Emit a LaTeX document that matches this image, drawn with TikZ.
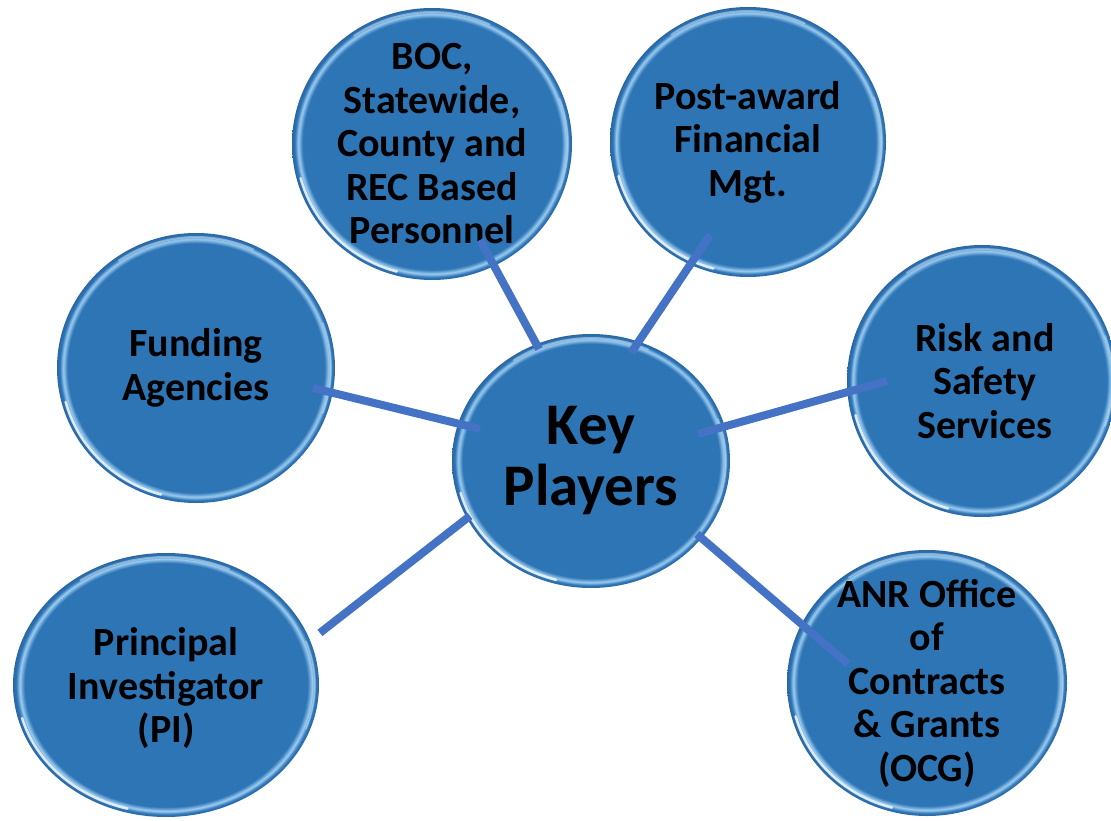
\documentclass[tikz,border=0pt]{standalone}
\usepackage{fontspec}
\setmainfont{Carlito}
\usetikzlibrary{shapes.geometric,calc}
\definecolor{bfill}{HTML}{2E75B6}
\definecolor{brim}{HTML}{9CCDF1}
\definecolor{bedge}{HTML}{2A66A2}
\definecolor{conncol}{HTML}{4472C4}
\pgfdeclareradialshading{bubble}{\pgfpoint{0bp}{0bp}}{color(0bp)=(bfill); color(23.1bp)=(bfill); color(23.9bp)=(brim); color(24.5bp)=(bfill); color(25bp)=(bedge); color(50bp)=(bedge)}
\tikzset{
  bub/.style={ellipse, shading=bubble, inner sep=0pt, outer sep=0pt, draw=none},
  txt/.style={align=center, font=\bfseries\fontsize{40}{43.5}\selectfont, text=black, inner sep=0pt},
  bigtxt/.style={align=center, font=\bfseries\fontsize{59}{61}\selectfont, text=black, inner sep=0pt},
  hl/.style={draw=white, line width=2.5pt, line cap=round},
  conn/.style={draw=conncol, line width=8pt}
}
\begin{document}
\begin{tikzpicture}[x=1pt,y=-1pt]
\useasboundingbox (0,0) rectangle (1111,821);
% bubbles
\node[bub, minimum width=278pt, minimum height=254pt] (key)  at (591,461) {};
\node[bub, minimum width=280pt, minimum height=272pt] (boc)  at (432,144) {};
\node[bub, minimum width=276pt, minimum height=270pt] (post) at (748,142) {};
\node[bub, minimum width=278pt, minimum height=270pt] (fund) at (196,368) {};
\node[bub, minimum width=270pt, minimum height=272pt] (risk) at (982,381) {};
\node[bub, minimum width=306pt, minimum height=264pt] (pi)   at (166,685) {};
\node[bub, minimum width=280pt, minimum height=266pt] (anr)  at (927,683) {};
% rim highlights
\foreach \n/\rx/\ry in {key/139/127, boc/140/136, post/138/135, fund/139/135, risk/135/136, pi/153/132, anr/140/133}{
  \pgfmathsetmacro\ax{\rx-4}
  \pgfmathsetmacro\ay{\ry-4}
  \draw[hl, opacity=0.8] ($(\n.center)+(195:\ax pt and \ay pt)$) arc[start angle=195, end angle=255, x radius=\ax pt, y radius=\ay pt];
  \draw[hl, opacity=0.35, line width=2pt] ($(\n.center)+(65:\ax pt and \ay pt)$) arc[start angle=65, end angle=125, x radius=\ax pt, y radius=\ay pt];
  \draw[hl, opacity=0.35, line width=1.5pt] ($(\n.center)+(-20:\ax pt and \ay pt)$) arc[start angle=-20, end angle=20, x radius=\ax pt, y radius=\ay pt];
}
% texts
\node[bigtxt] (key-t)  at (key)  {Key\\Players};
\node[txt]    (boc-t)  at (boc)  {BOC,\\Statewide,\\County and\\REC Based\\Personnel};
\node[txt]    (post-t) at (post) {Post-award\\Financial\\Mgt.};
\node[txt]    (fund-t) at (fund) {Funding\\Agencies};
\node[txt]    (risk-t) at ([xshift=3pt]risk.center) {Risk and\\Safety\\Services};
\node[txt]    (pi-t)   at ([yshift=-3pt]pi.center)   {Principal\\Investigator\\(PI)};
\node[txt]    (anr-t)  at (anr)  {ANR Office\\of\\Contracts\\\&\ Grants\\(OCG)};
% connectors
\draw[conn] ($(boc.center)+(296.6:107.3pt)$)  -- ($(key.center)+(114.9:123.5pt)$);
\draw[conn] ($(post.center)+(247.8:100.5pt)$) -- ($(key.center)+(69.7:115.2pt)$);
\draw[conn] ($(fund.center)+(350.3:118.7pt)$) -- ($(key.center)+(163.9:115.5pt)$);
\draw[conn] ($(risk.center)+(180:95pt)$)      -- ($(key.center)+(14.2:110.4pt)$);
\draw[conn] ($(pi.center)+(18.7:162.5pt)$)    -- ($(key.center)+(204.4:132.9pt)$);
\draw[conn] ($(key.center)+(325.4:128.7pt)$)  -- ($(anr.center)+(166.5:81.3pt)$);
\end{tikzpicture}
\end{document}
